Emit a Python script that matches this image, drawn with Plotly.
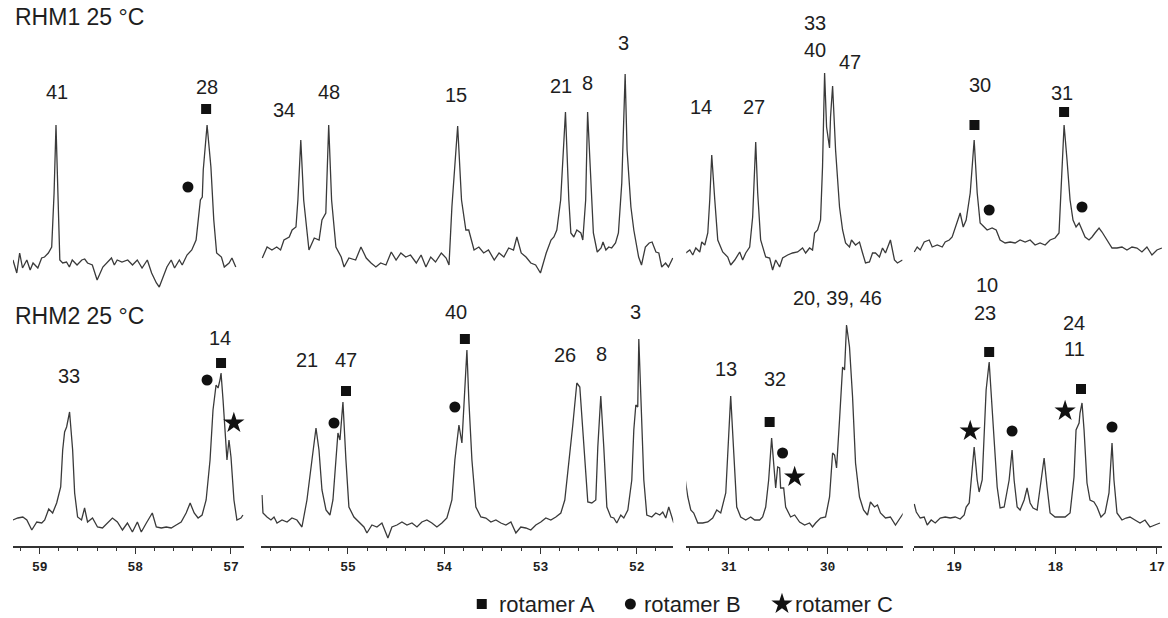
import plotly.graph_objects as go

W, H = 1168, 618

# ---------------- data ----------------
# Four chemical-shift windows (ppm, broken axis); left/right limits of each window
seg_ranges = [(59.28, 56.86), (55.90, 51.62), (31.43, 29.24), (19.40, 16.95)]
seg_major_ticks = [[59, 58, 57], [55, 54, 53, 52], [31, 30], [19, 18, 17]]

# RHM1 25 °C (upper spectrum): ppm / intensity (a.u.)
rhm1_w1_ppm = [59.28, 59.24, 59.21, 59.18, 59.135, 59.10, 59.07, 59.02, 58.98, 58.95, 58.91, 58.875, 58.85,
               58.83, 58.81, 58.79, 58.76, 58.72, 58.69, 58.66, 58.61, 58.56, 58.53, 58.50, 58.45, 58.40,
               58.34, 58.29, 58.25, 58.22, 58.19, 58.14, 58.08, 58.03, 57.98, 57.93, 57.875, 57.83, 57.78,
               57.75, 57.71, 57.67, 57.625, 57.59, 57.54, 57.51, 57.46, 57.41, 57.365, 57.34, 57.32, 57.30,
               57.29, 57.25, 57.21, 57.18, 57.15, 57.10, 57.07, 57.02, 56.99, 56.95]
rhm1_w1_int = [20, 7, 27, 12, 20, 10, 17, 12, 22, 23, 27, 33, 87, 155, 87, 20, 17, 18, 13, 20, 15, 20, 21,
               17, 15, 0, 13, 18, 22, 15, 20, 18, 20, 15, 20, 12, 20, 7, -3, -7, 3, 13, 20, 12, 20, 15, 25,
               30, 40, 60, 80, 83, 110, 155, 113, 60, 27, 23, 13, 17, 22, 13]

rhm1_w2_ppm = [55.89, 55.84, 55.79, 55.74, 55.70, 55.665, 55.61, 55.58, 55.54, 55.52, 55.49, 55.46, 55.405,
               55.35, 55.30, 55.27, 55.23, 55.20, 55.17, 55.125, 55.07, 55.04, 54.99, 54.92, 54.865, 54.81,
               54.76, 54.71, 54.66, 54.605, 54.55, 54.50, 54.45, 54.40, 54.35, 54.29, 54.24, 54.19, 54.14,
               54.09, 54.03, 53.98, 53.95, 53.92, 53.86, 53.82, 53.775, 53.745, 53.69, 53.64, 53.59, 53.54,
               53.48, 53.43, 53.38, 53.33, 53.28, 53.245, 53.20, 53.15, 53.10, 53.05, 53.00, 52.94, 52.89,
               52.86, 52.83, 52.79, 52.74, 52.705, 52.684, 52.653, 52.622, 52.58, 52.56, 52.53, 52.51,
               52.48, 52.45, 52.41, 52.37, 52.35, 52.32, 52.29, 52.26, 52.22, 52.19, 52.155, 52.12, 52.10,
               52.06, 52.03, 51.98, 51.95, 51.91, 51.87, 51.84, 51.80, 51.77, 51.74, 51.70, 51.67, 51.625]
rhm1_w2_int = [22, 33, 30, 33, 30, 40, 43, 50, 53, 80, 140, 80, 30, 42, 40, 60, 67, 155, 80, 33,
               23, 13, 22, 20, 33, 22, 17, 13, 17, 15, 28, 20, 27, 23, 25, 17, 25, 13, 23, 18,
               27, 22, 15, 73, 154, 80, 50, 50, 30, 33, 27, 30, 20, 27, 23, 32, 30, 43, 27, 23,
               17, 15, 7, 27, 40, 43, 50, 80, 168, 80, 47, 43, 50, 47, 40, 80, 168, 113, 47, 28,
               32, 38, 30, 33, 32, 37, 47, 97, 206, 130, 73, 50, 23, 15, 33, 37, 38, 28, 27, 13,
               17, 13, 22]

rhm1_w3_ppm = [31.434, 31.394, 31.364, 31.333, 31.293, 31.273, 31.242, 31.212, 31.192, 31.172, 31.141,
               31.111, 31.061, 31.010, 30.980, 30.939, 30.889, 30.859, 30.828, 30.788, 30.758, 30.727,
               30.707, 30.677, 30.626, 30.586, 30.556, 30.525, 30.485, 30.455, 30.404, 30.354, 30.303,
               30.253, 30.222, 30.182, 30.152, 30.131, 30.101, 30.071, 30.051, 30.030, 30.010, 29.980,
               29.970, 29.949, 29.919, 29.879, 29.848, 29.818, 29.778, 29.758, 29.717, 29.677, 29.646,
               29.616, 29.576, 29.545, 29.515, 29.475, 29.444, 29.414, 29.364, 29.323, 29.293, 29.242]
rhm1_w3_int = [27, 30, 25, 32, 28, 38, 35, 47, 80, 125, 80, 40, 28, 23, 15, 20, 28, 20, 27, 33,
               63, 138, 87, 40, 23, 22, 10, 20, 13, 22, 25, 27, 28, 32, 27, 32, 30, 47, 50, 60,
               113, 207, 153, 132, 163, 194, 130, 73, 50, 37, 33, 40, 35, 38, 27, 17, 18, 27, 27, 23,
               32, 27, 40, 20, 17, 20]

rhm1_w4_ppm = [19.394, 19.365, 19.335, 19.296, 19.246, 19.217, 19.167, 19.118, 19.089, 19.049, 19.020,
               18.990, 18.961, 18.941, 18.911, 18.882, 18.842, 18.803, 18.773, 18.744, 18.704, 18.675,
               18.626, 18.586, 18.547, 18.498, 18.448, 18.399, 18.350, 18.300, 18.251, 18.202, 18.153,
               18.103, 18.054, 18.005, 17.966, 17.946, 17.916, 17.887, 17.857, 17.828, 17.798, 17.768,
               17.739, 17.709, 17.670, 17.640, 17.611, 17.571, 17.542, 17.493, 17.443, 17.394, 17.345,
               17.296, 17.246, 17.197, 17.148, 17.099, 17.049, 17.000, 16.951]
rhm1_w4_int = [28, 33, 30, 38, 40, 33, 35, 33, 38, 40, 43, 52, 63, 67, 53, 60, 87, 140, 87, 57,
               53, 50, 52, 50, 40, 37, 38, 37, 40, 38, 40, 35, 37, 35, 40, 42, 47, 87, 155, 120,
               80, 60, 53, 57, 50, 43, 40, 43, 47, 52, 48, 40, 32, 32, 33, 30, 33, 32, 28, 33,
               25, 30, 32]

# RHM2 25 °C (lower spectrum)
rhm2_w1_ppm = [59.281, 59.229, 59.177, 59.135, 59.083, 59.031, 58.979, 58.948, 58.906, 58.865, 58.823,
               58.781, 58.760, 58.740, 58.719, 58.688, 58.656, 58.635, 58.604, 58.563, 58.531, 58.500,
               58.448, 58.396, 58.344, 58.292, 58.240, 58.188, 58.135, 58.083, 58.031, 57.979, 57.938,
               57.885, 57.823, 57.781, 57.729, 57.677, 57.625, 57.573, 57.521, 57.469, 57.427, 57.385,
               57.344, 57.302, 57.260, 57.219, 57.188, 57.156, 57.135, 57.115, 57.104, 57.083, 57.063,
               57.042, 57.021, 57.000, 56.969, 56.938, 56.896, 56.875]
rhm2_w1_int = [26, 28, 29, 26, 16, 24, 23, 26, 37, 33, 43, 59, 96, 114, 119, 134, 96, 53, 29, 26,
               38, 24, 28, 19, 18, 23, 28, 24, 16, 23, 14, 24, 14, 23, 33, 19, 18, 19, 18, 21,
               24, 33, 43, 33, 28, 31, 46, 86, 136, 161, 158, 166, 173, 146, 116, 86, 106, 89, 46, 26,
               28, 31]

rhm2_w2_ppm = [55.893, 55.883, 55.841, 55.800, 55.768, 55.737, 55.685, 55.633, 55.582, 55.530, 55.478,
               55.426, 55.374, 55.332, 55.301, 55.270, 55.228, 55.187, 55.156, 55.125, 55.104, 55.083,
               55.052, 55.021, 54.990, 54.938, 54.886, 54.834, 54.803, 54.751, 54.699, 54.647, 54.585,
               54.543, 54.491, 54.439, 54.387, 54.335, 54.283, 54.232, 54.180, 54.128, 54.076, 54.024,
               53.972, 53.920, 53.889, 53.847, 53.816, 53.795, 53.764, 53.744, 53.712, 53.671, 53.619,
               53.567, 53.515, 53.463, 53.411, 53.359, 53.307, 53.255, 53.204, 53.152, 53.100, 53.048,
               52.996, 52.944, 52.892, 52.840, 52.788, 52.747, 52.705, 52.664, 52.622, 52.591, 52.560,
               52.529, 52.508, 52.466, 52.425, 52.404, 52.373, 52.342, 52.310, 52.269, 52.238, 52.207,
               52.165, 52.134, 52.092, 52.051, 52.030, 52.009, 51.989, 51.978, 51.947, 51.926, 51.895,
               51.843, 51.802, 51.760, 51.729, 51.698, 51.667, 51.636, 51.615]
rhm2_w2_int = [51, 33, 29, 26, 29, 23, 26, 24, 28, 26, 19, 46, 86, 118, 96, 56, 36, 31, 46, 86,
               113, 106, 144, 86, 39, 29, 24, 19, 13, 21, 19, 23, 8, 19, 21, 24, 21, 23, 19, 24,
               26, 23, 19, 23, 28, 46, 86, 121, 103, 146, 196, 146, 86, 39, 29, 28, 24, 26, 23, 21,
               24, 13, 19, 18, 16, 21, 24, 28, 26, 29, 33, 46, 81, 121, 163, 159, 116, 66, 44, 43,
               46, 99, 150, 99, 39, 29, 28, 23, 31, 28, 36, 66, 116, 141, 139, 207, 133, 66, 31, 29,
               33, 31, 34, 28, 39, 28, 23]

rhm2_w3_ppm = [31.444, 31.414, 31.384, 31.354, 31.313, 31.263, 31.212, 31.162, 31.121, 31.081, 31.030,
               31.010, 30.980, 30.949, 30.919, 30.879, 30.828, 30.778, 30.737, 30.687, 30.657, 30.626,
               30.596, 30.566, 30.545, 30.525, 30.505, 30.485, 30.475, 30.444, 30.424, 30.374, 30.333,
               30.283, 30.232, 30.182, 30.152, 30.121, 30.071, 30.020, 29.980, 29.949, 29.929, 29.909,
               29.879, 29.848, 29.828, 29.808, 29.778, 29.747, 29.717, 29.677, 29.636, 29.596, 29.566,
               29.525, 29.495, 29.465, 29.414, 29.364, 29.313, 29.263, 29.232]
rhm2_w3_int = [69, 49, 36, 33, 23, 23, 24, 28, 36, 33, 53, 93, 150, 93, 39, 29, 26, 29, 26, 26,
               29, 39, 66, 108, 83, 58, 79, 78, 58, 58, 39, 29, 31, 24, 21, 23, 19, 23, 28, 29,
               49, 93, 91, 78, 126, 179, 176, 221, 199, 149, 83, 49, 36, 31, 44, 39, 41, 33, 28, 29,
               21, 29, 33]

rhm2_w4_ppm = [19.394, 19.374, 19.335, 19.296, 19.266, 19.227, 19.187, 19.138, 19.089, 19.039, 18.990,
               18.941, 18.901, 18.882, 18.852, 18.833, 18.803, 18.773, 18.754, 18.724, 18.704, 18.685,
               18.655, 18.635, 18.606, 18.576, 18.547, 18.507, 18.458, 18.429, 18.409, 18.379, 18.350,
               18.310, 18.281, 18.251, 18.222, 18.182, 18.153, 18.113, 18.084, 18.054, 18.005, 17.956,
               17.906, 17.857, 17.818, 17.798, 17.768, 17.759, 17.739, 17.719, 17.690, 17.660, 17.621,
               17.591, 17.552, 17.512, 17.473, 17.443, 17.424, 17.394, 17.345, 17.305, 17.266, 17.217,
               17.167, 17.118, 17.069, 17.020, 16.970]
rhm2_w4_int = [42, 34, 28, 29, 21, 26, 23, 28, 29, 28, 29, 27, 31, 39, 43, 66, 99, 66, 54, 66,
               116, 156, 184, 156, 106, 59, 38, 39, 66, 96, 66, 39, 36, 46, 58, 43, 38, 36, 59, 88,
               59, 33, 29, 29, 29, 33, 69, 116, 123, 133, 143, 116, 63, 46, 44, 39, 29, 33, 53, 103,
               66, 33, 26, 28, 29, 26, 23, 26, 19, 21, 23]

# Peak assignments (window, ppm, height, text)
rhm1_labels = [(1, 58.82, 188, "41"), (1, 57.25, 193, "28"), (2, 55.66, 170, "34"), (2, 55.20, 188, "48"),
               (2, 53.88, 185, "15"), (2, 52.79, 194, "21"), (2, 52.51, 197, "8"), (2, 52.14, 237, "3"),
               (3, 31.28, 173, "14"), (3, 30.74, 173, "27"), (3, 30.13, 257, "33"), (3, 30.13, 230, "40"),
               (3, 29.77, 218, "47"), (4, 18.75, 195, "30"), (4, 17.94, 187, "31")]
rhm2_labels = [(1, 58.69, 170, "33"), (1, 57.11, 208, "14"), (2, 55.43, 186, "21"), (2, 55.02, 186, "47"),
               (2, 53.88, 234, "40"), (2, 52.75, 191, "26"), (2, 52.37, 192, "8"), (2, 52.01, 234, "3"),
               (3, 31.03, 177, "13"), (3, 30.535, 167, "32"), (3, 29.90, 248, "20, 39, 46"),
               (4, 18.675, 261, "10"), (4, 18.695, 233, "23"), (4, 17.818, 223, "24"), (4, 17.818, 197, "11")]

# Rotamer markers (window, ppm, height)
rhm1_rotA = [(1, 57.26, 171), (4, 18.80, 155), (4, 17.916, 168)]
rhm1_rotB = [(1, 57.45, 93), (4, 18.655, 70), (4, 17.739, 73)]
rhm2_rotA = [(1, 57.104, 183), (2, 55.02, 155), (2, 53.785, 207), (3, 30.586, 124), (4, 18.655, 194),
             (4, 17.749, 157)]
rhm2_rotB = [(1, 57.25, 166), (2, 55.145, 123), (2, 53.889, 139), (3, 30.455, 93), (4, 18.429, 115),
             (4, 17.443, 119)]
rhm2_rotC = [(1, 56.97, 123), (3, 30.333, 69), (4, 18.842, 115), (4, 17.906, 135)]

rhm1_windows = [(rhm1_w1_ppm, rhm1_w1_int), (rhm1_w2_ppm, rhm1_w2_int),
                (rhm1_w3_ppm, rhm1_w3_int), (rhm1_w4_ppm, rhm1_w4_int)]
rhm2_windows = [(rhm2_w1_ppm, rhm2_w1_int), (rhm2_w2_ppm, rhm2_w2_int),
                (rhm2_w3_ppm, rhm2_w3_int), (rhm2_w4_ppm, rhm2_w4_int)]

# ---------------- layout constants ----------------
seg_pix = [(13, 245), (262, 675), (688, 905), (916, 1165)]
LINE = "#3a3a3a"
INK = "#1e1e1e"
LABEL_FONT = dict(family="Liberation Sans, Arial, sans-serif", size=20, color=INK)


def xname(i):
    return "x" if i == 1 else f"x{i}"


fig = go.Figure()

for row_windows, yname in ((rhm1_windows, "y"), (rhm2_windows, "y2")):
    for i, (ppm, inten) in enumerate(row_windows, start=1):
        assert len(ppm) == len(inten), (yname, i, len(ppm), len(inten))
        fig.add_trace(go.Scatter(x=ppm, y=inten, mode="lines", xaxis=xname(i), yaxis=yname,
                                 line=dict(color=LINE, width=1.3), hoverinfo="skip"))

marker_styles = {"A": dict(symbol="square", size=10), "B": dict(symbol="circle", size=11),
                 "C": dict(symbol="star", size=16)}
for pts, kind, yname in ((rhm1_rotA, "A", "y"), (rhm1_rotB, "B", "y"), (rhm2_rotA, "A", "y2"),
                         (rhm2_rotB, "B", "y2"), (rhm2_rotC, "C", "y2")):
    for i in range(1, 5):
        sel = [p for p in pts if p[0] == i]
        if not sel:
            continue
        fig.add_trace(go.Scatter(x=[p[1] for p in sel], y=[p[2] for p in sel], mode="markers",
                                 xaxis=xname(i), yaxis=yname, cliponaxis=False,
                                 marker=dict(color="#111", line=dict(width=0), **marker_styles[kind]),
                                 hoverinfo="skip"))

annotations = []
for labels, yname in ((rhm1_labels, "y"), (rhm2_labels, "y2")):
    for i, ppm, h, txt in labels:
        annotations.append(dict(x=ppm, y=h, xref=xname(i), yref=yname, text=txt, showarrow=False,
                                font=LABEL_FONT, xanchor="center", yanchor="middle"))

# panel titles
annotations.append(dict(x=13 / W, y=1 - 2 / H, xref="paper", yref="paper", text="RHM1 25 °C",
                        showarrow=False, xanchor="left", yanchor="top",
                        font=dict(family="Liberation Sans, Arial, sans-serif", size=23, color=INK)))
annotations.append(dict(x=13 / W, y=1 - 315.5 / H, xref="paper", yref="paper", text="RHM2 25 °C",
                        showarrow=False, xanchor="left", yanchor="middle",
                        font=dict(family="Liberation Sans, Arial, sans-serif", size=23, color=INK)))

# legend (symbol + text), drawn on an overlay axis in page pixels
legend_items = [("A", 483, 498, "rotamer A"), ("B", 632, 644, "rotamer B"), ("C", 784, 795, "rotamer C")]
for kind, sx, tx, txt in legend_items:
    fig.add_trace(go.Scatter(x=[sx], y=[604], mode="markers", xaxis="x5", yaxis="y3", cliponaxis=False,
                             marker=dict(color="#111", line=dict(width=0), **marker_styles[kind]),
                             hoverinfo="skip"))
    annotations.append(dict(x=tx, y=604, xref="x5", yref="y3", text=txt, showarrow=False,
                            xanchor="left", yanchor="middle",
                            font=dict(family="Liberation Sans, Arial, sans-serif", size=22, color=INK)))

layout = dict(width=W, height=H, margin=dict(l=0, r=0, t=0, b=0), paper_bgcolor="white",
              plot_bgcolor="rgba(0,0,0,0)", showlegend=False, annotations=annotations)

for i in range(1, 5):
    x0, x1 = seg_pix[i - 1]
    key = "xaxis" if i == 1 else f"xaxis{i}"
    layout[key] = dict(domain=[x0 / W, x1 / W], range=list(seg_ranges[i - 1]), anchor="y2",
                       showline=True, linecolor="#333", linewidth=1.5, showgrid=False, zeroline=False,
                       ticks="outside", ticklen=6, tickwidth=1.3, tickcolor="#333",
                       tickmode="array", tickvals=seg_major_ticks[i - 1],
                       ticktext=[str(v) for v in seg_major_ticks[i - 1]],
                       tickfont=dict(family="Liberation Mono, DejaVu Sans Mono, monospace", size=13,
                                     color=INK, weight="bold"),
                       ticklabelstandoff=2,
                       minor=dict(tickmode="linear", tick0=0, dtick=0.2, ticks="outside", ticklen=3,
                                  tickwidth=1, tickcolor="#333", showgrid=False))

# upper spectrum in its own band; lower band extended upward so tall labels stay inside its range
layout["yaxis"] = dict(domain=[1 - 295 / H, 1], range=[-15, 280], visible=False, anchor="x")
layout["yaxis2"] = dict(domain=[1 - 546 / H, 1 - 266 / H], range=[0, 280], visible=False, anchor="x")
layout["xaxis5"] = dict(domain=[0, 1], range=[0, W], visible=False, anchor="y3")
layout["yaxis3"] = dict(domain=[0, 1], range=[H, 0], visible=False, anchor="x5")

fig.update_layout(**layout)
fig.write_html("out.html")
